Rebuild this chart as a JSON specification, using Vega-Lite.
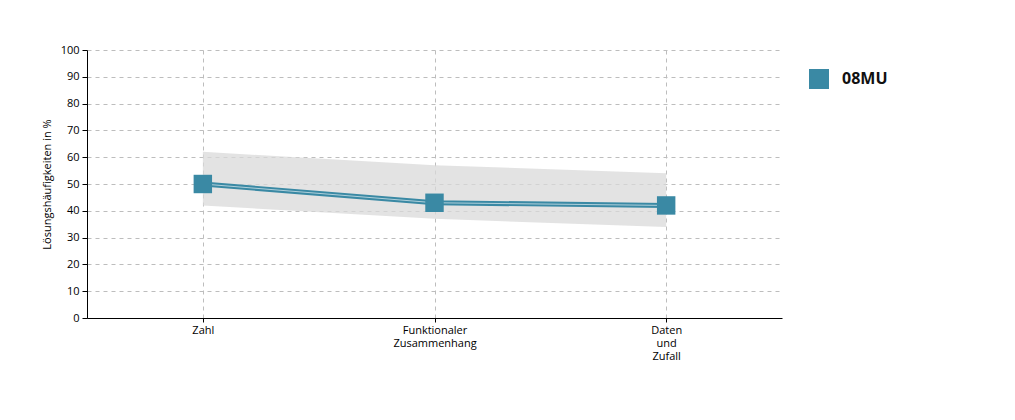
{
  "$schema": "https://vega.github.io/schema/vega-lite/v6.json",
  "width": 695,
  "height": 268,
  "autosize": {"type": "none"},
  "padding": {"left": 87, "top": 50, "right": 233, "bottom": 102},
  "background": "white",
  "data": {
    "values": [
      {"bereich": "Zahl", "wert": 50, "unten": 42, "oben": 62, "gruppe": "08MU"},
      {"bereich": "Funktionaler Zusammenhang", "wert": 43, "unten": 37, "oben": 57, "gruppe": "08MU"},
      {"bereich": "Daten und Zufall", "wert": 42, "unten": 34, "oben": 54, "gruppe": "08MU"}
    ]
  },
  "config": {
    "view": {"stroke": null},
    "font": "Open Sans",
    "axis": {
      "labelFont": "Open Sans",
      "titleFont": "Open Sans",
      "labelColor": "#000000",
      "titleColor": "#000000",
      "domainColor": "#000000",
      "tickColor": "#000000",
      "gridColor": "#bdbdbd",
      "gridDash": [4, 4],
      "gridWidth": 1
    }
  },
  "encoding": {
    "x": {
      "field": "bereich",
      "type": "ordinal",
      "sort": null,
      "scale": {"type": "point", "padding": 0.5},
      "axis": {
        "title": null,
        "labelAngle": 0,
        "labelFontSize": 11,
        "labelExpr": "split(datum.label, ' ')",
        "labelLineHeight": 13,
        "tickSize": 4,
        "labelPadding": 2,
        "grid": true
      }
    }
  },
  "layer": [
    {
      "mark": {"type": "area", "color": "#d9d9d9", "opacity": 0.75},
      "encoding": {
        "y": {
          "field": "unten",
          "type": "quantitative",
          "scale": {"domain": [0, 100]},
          "axis": {
            "title": "Lösungshäufigkeiten in %",
            "titleFontSize": 11,
            "titleFontWeight": "normal",
            "titlePadding": 8,
            "labelFontSize": 11,
            "values": [0, 10, 20, 30, 40, 50, 60, 70, 80, 90, 100],
            "labelOverlap": false,
            "tickSize": 5,
            "labelPadding": 3,
            "grid": true
          }
        },
        "y2": {"field": "oben"}
      }
    },
    {
      "mark": {"type": "line", "color": "#3a89a4", "strokeWidth": 5},
      "encoding": {
        "y": {
          "field": "wert",
          "type": "quantitative",
          "axis": {
            "title": "Lösungshäufigkeiten in %",
            "titleFontSize": 11,
            "titleFontWeight": "normal",
            "titlePadding": 8,
            "labelFontSize": 11,
            "values": [0, 10, 20, 30, 40, 50, 60, 70, 80, 90, 100],
            "labelOverlap": false,
            "tickSize": 5,
            "labelPadding": 3,
            "grid": true
          }
        }
      }
    },
    {
      "mark": {"type": "line", "color": "#ffffff", "strokeWidth": 1, "opacity": 0.6},
      "encoding": {
        "y": {
          "field": "wert",
          "type": "quantitative",
          "axis": {
            "title": "Lösungshäufigkeiten in %",
            "titleFontSize": 11,
            "titleFontWeight": "normal",
            "titlePadding": 8,
            "labelFontSize": 11,
            "values": [0, 10, 20, 30, 40, 50, 60, 70, 80, 90, 100],
            "labelOverlap": false,
            "tickSize": 5,
            "labelPadding": 3,
            "grid": true
          }
        }
      }
    },
    {
      "mark": {"type": "point", "shape": "square", "filled": true, "size": 340, "opacity": 1},
      "encoding": {
        "y": {
          "field": "wert",
          "type": "quantitative",
          "axis": {
            "title": "Lösungshäufigkeiten in %",
            "titleFontSize": 11,
            "titleFontWeight": "normal",
            "titlePadding": 8,
            "labelFontSize": 11,
            "values": [0, 10, 20, 30, 40, 50, 60, 70, 80, 90, 100],
            "labelOverlap": false,
            "tickSize": 5,
            "labelPadding": 3,
            "grid": true
          }
        },
        "color": {
          "field": "gruppe",
          "type": "nominal",
          "scale": {"range": ["#3a89a4"]},
          "legend": {
            "title": null,
            "orient": "none",
            "legendX": 721,
            "legendY": 18,
            "symbolSize": 400,
            "symbolType": "square",
            "labelFontSize": 16,
            "labelFontWeight": "bold",
            "labelFont": "Open Sans",
            "labelColor": "#111111",
            "labelOffset": 12
          }
        }
      }
    }
  ]
}
